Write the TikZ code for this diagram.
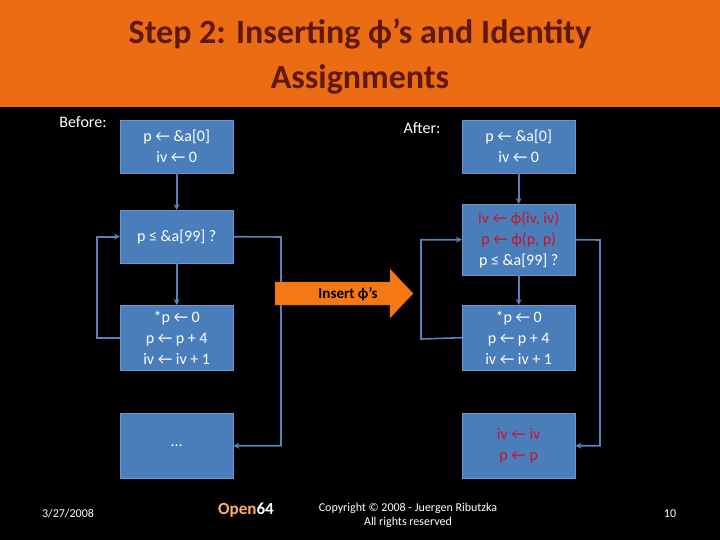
\documentclass[tikz,border=0pt]{standalone}
\usepackage{fontspec}
\setmainfont{Carlito}
\usetikzlibrary{arrows.meta}
\definecolor{boxblue}{RGB}{74,126,187}
\definecolor{boxedge}{RGB}{110,150,205}
\definecolor{linkblue}{RGB}{90,130,185}
\definecolor{titleor}{RGB}{236,108,20}
\definecolor{titletx}{RGB}{95,25,10}
\definecolor{phired}{RGB}{200,20,40}
\definecolor{arrowor}{RGB}{245,120,20}
\begin{document}
\begin{tikzpicture}[x=1pt,y=-1pt,
  blk/.style={draw=boxedge,fill=boxblue,text=white,minimum width=113pt,align=center,inner sep=1pt,font=\fontsize{16}{21}\selectfont,anchor=north west},
  link/.style={draw=linkblue,line width=1.6pt,-{Stealth[length=6pt,width=6pt]}},
  lbl/.style={text=white,font=\fontsize{16}{18}\selectfont}]
\useasboundingbox (0,0) rectangle (720,540);
\fill[black] (0,0) rectangle (720,540);
\fill[titleor] (0,0) rectangle (720,107);
\node[text=titletx,font=\bfseries\fontsize{34}{45}\selectfont,align=center] (title) at (360,57) {Step 2: Inserting ϕ’s and Identity\\Assignments};
\node[lbl] (before) at (83,122) {Before:};
\node[lbl] (after) at (422,128) {After:};
% left
\node[blk,minimum height=53pt] (l1) at (120,120) {p ← \&a[0]\\iv ← 0};
\node[blk,minimum height=53pt] (l2) at (120,210) {p ≤ \&a[99] ?};
\node[blk,minimum height=65pt] (l3) at (120,305) {*p ← 0\\p ← p + 4\\iv ← iv + 1};
\node[blk,minimum height=65pt] (l4) at (120,413) {…};
% right
\node[blk,minimum height=71pt] (r2) at (462,204) {\textcolor{phired}{iv ← ϕ(iv, iv)}\\\textcolor{phired}{p ← ϕ(p, p)}\\p ≤ \&a[99] ?};
\node[blk,minimum height=53pt] (r1) at (462,120) {p ← \&a[0]\\iv ← 0};
\node[blk,minimum height=65pt] (r3) at (462,305) {*p ← 0\\p ← p + 4\\iv ← iv + 1};
\node[blk,minimum height=65pt] (r4) at (462,413) {\textcolor{phired}{iv ← iv}\\\textcolor{phired}{p ← p}};
% arrows
\draw[link] (l1) -- (l2);
\draw[link] (l2) -- (l3);
\draw[link] (l3.west) -- ++(-23,0) |- (l2.west);
\draw[link] (l2.east) -- (281,237) |- (l4.east);
\draw[link] (r1) -- (r2);
\draw[link] (r2) -- (r3);
\draw[link] (r3.west) -- (421,339) |- (r2.west);
\draw[link] (r2.east) -- (600,240) |- (r4.east);
% insert arrow
\fill[arrowor,draw=arrowor!80!black] (275,282) -- (390,282) -- (390,269) -- (413,293.5) -- (390,318) -- (390,305) -- (275,305) -- cycle;
\node[font=\bfseries\fontsize{15}{17}\selectfont,text=black] (ins) at (348,294) {Insert ϕ’s};
% footer
\node[text=white,font=\fontsize{12}{14}\selectfont] (date) at (68,514) {3/27/2008};
\node[text=orange!60!white,font=\bfseries\fontsize{17}{19}\selectfont] (logo) at (246,510) {Open\textcolor{white}{64}};
\node[text=white,font=\fontsize{12}{14}\selectfont,align=center] (copy) at (408,515) {Copyright © 2008 - Juergen Ributzka\\All rights reserved};
\node[text=white,font=\fontsize{12}{14}\selectfont] (pg) at (670,514) {10};
\end{tikzpicture}
\end{document}
